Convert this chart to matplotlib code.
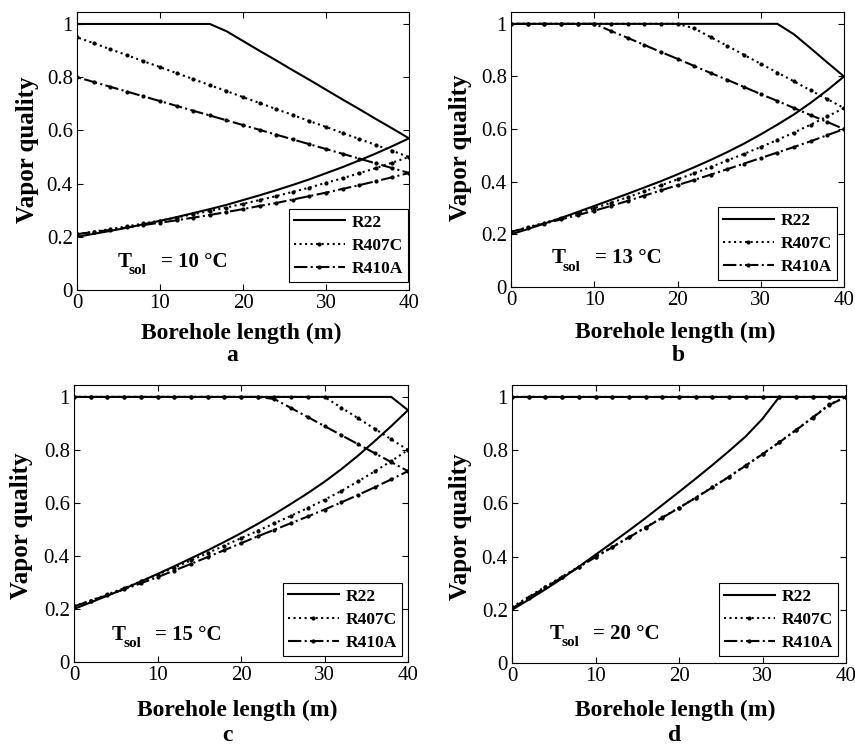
import matplotlib
matplotlib.use('Agg')
import matplotlib.pyplot as plt

plt.rcParams['font.family'] = 'Liberation Serif'

# borehole length (m), one sample every 2 m
x_len = [0, 2, 4, 6, 8, 10, 12, 14, 16, 18, 20, 22, 24, 26, 28, 30, 32, 34, 36, 38, 40]

refrigerants = ['R22', 'R407C', 'R410A']
soil_temps = [10, 13, 15, 20]
panel_letters = ['a', 'b', 'c', 'd']

# vapor quality going down the borehole (inlet at 0 m)
down_10_r22 = [0.200, 0.211, 0.222, 0.234, 0.247, 0.260, 0.274, 0.289, 0.304, 0.320, 0.338,
               0.356, 0.375, 0.395, 0.416, 0.439, 0.462, 0.487, 0.513, 0.541, 0.570]
down_10_r407c = [0.210, 0.219, 0.229, 0.239, 0.250, 0.261, 0.272, 0.285, 0.297, 0.310, 0.324,
                 0.338, 0.353, 0.369, 0.385, 0.403, 0.420, 0.439, 0.458, 0.479, 0.500]
down_10_r410a = [0.210, 0.218, 0.226, 0.235, 0.244, 0.253, 0.262, 0.272, 0.282, 0.293, 0.304,
                 0.316, 0.327, 0.340, 0.353, 0.366, 0.380, 0.394, 0.409, 0.424, 0.440]

down_13_r22 = [0.200, 0.220, 0.241, 0.262, 0.285, 0.308, 0.331, 0.354, 0.378, 0.402, 0.428,
               0.455, 0.483, 0.513, 0.545, 0.580, 0.617, 0.656, 0.700, 0.748, 0.800]
down_13_r407c = [0.210, 0.227, 0.244, 0.262, 0.281, 0.300, 0.320, 0.341, 0.363, 0.386, 0.409,
                 0.432, 0.456, 0.481, 0.506, 0.532, 0.559, 0.587, 0.617, 0.648, 0.680]
down_13_r410a = [0.210, 0.225, 0.241, 0.257, 0.273, 0.290, 0.308, 0.327, 0.347, 0.367, 0.387,
                 0.407, 0.427, 0.448, 0.469, 0.490, 0.511, 0.532, 0.554, 0.577, 0.600]

down_15_r22 = [0.200, 0.225, 0.250, 0.276, 0.304, 0.332, 0.361, 0.391, 0.421, 0.453, 0.486,
               0.521, 0.558, 0.597, 0.637, 0.680, 0.727, 0.778, 0.833, 0.890, 0.950]
down_15_r407c = [0.210, 0.232, 0.255, 0.279, 0.304, 0.330, 0.356, 0.383, 0.411, 0.439, 0.467,
                 0.495, 0.523, 0.552, 0.581, 0.612, 0.645, 0.681, 0.719, 0.758, 0.800]
down_15_r410a = [0.210, 0.231, 0.252, 0.274, 0.297, 0.320, 0.345, 0.370, 0.396, 0.422, 0.448,
                 0.474, 0.499, 0.524, 0.549, 0.575, 0.602, 0.630, 0.659, 0.689, 0.720]

down_20_r22 = [0.200, 0.238, 0.277, 0.318, 0.362, 0.407, 0.452, 0.498, 0.545, 0.594, 0.643,
               0.693, 0.744, 0.797, 0.852, 0.918, 1.000, 1.000, 1.000, 1.000, 1.000]
down_20_r407c = [0.210, 0.249, 0.287, 0.325, 0.362, 0.400, 0.436, 0.473, 0.510, 0.547, 0.584,
                 0.622, 0.661, 0.701, 0.743, 0.786, 0.830, 0.876, 0.923, 0.972, 1.000]
down_20_r410a = [0.205, 0.245, 0.284, 0.322, 0.360, 0.398, 0.435, 0.472, 0.509, 0.546, 0.583,
                 0.621, 0.660, 0.700, 0.742, 0.785, 0.829, 0.875, 0.922, 0.970, 1.000]

# vapor quality on the way back up (listed by increasing length)
up_10_r22 = [1.000, 1.000, 1.000, 1.000, 1.000, 1.000, 1.000, 1.000, 1.000, 0.973, 0.936,
             0.899, 0.863, 0.826, 0.790, 0.753, 0.716, 0.680, 0.643, 0.607, 0.570]
up_10_r407c = [0.950, 0.928, 0.905, 0.883, 0.860, 0.838, 0.815, 0.793, 0.770, 0.748, 0.725,
               0.703, 0.680, 0.658, 0.635, 0.613, 0.590, 0.568, 0.545, 0.523, 0.500]
up_10_r410a = [0.800, 0.782, 0.764, 0.746, 0.728, 0.710, 0.692, 0.674, 0.656, 0.638, 0.620,
               0.602, 0.584, 0.566, 0.548, 0.530, 0.512, 0.494, 0.476, 0.458, 0.440]

up_13_r22 = [1.000, 1.000, 1.000, 1.000, 1.000, 1.000, 1.000, 1.000, 1.000, 1.000, 1.000,
             1.000, 1.000, 1.000, 1.000, 1.000, 1.000, 0.960, 0.907, 0.853, 0.800]
up_13_r407c = [1.000, 1.000, 1.000, 1.000, 1.000, 1.000, 1.000, 1.000, 1.000, 1.000, 1.000,
               0.983, 0.949, 0.916, 0.882, 0.848, 0.815, 0.781, 0.747, 0.714, 0.680]
up_13_r410a = [1.000, 1.000, 1.000, 1.000, 1.000, 1.000, 0.973, 0.947, 0.920, 0.893, 0.867,
               0.840, 0.813, 0.787, 0.760, 0.733, 0.707, 0.680, 0.653, 0.627, 0.600]

up_15_r22 = [1.000, 1.000, 1.000, 1.000, 1.000, 1.000, 1.000, 1.000, 1.000, 1.000, 1.000,
             1.000, 1.000, 1.000, 1.000, 1.000, 1.000, 1.000, 1.000, 1.000, 0.950]
up_15_r407c = [1.000, 1.000, 1.000, 1.000, 1.000, 1.000, 1.000, 1.000, 1.000, 1.000, 1.000,
               1.000, 1.000, 1.000, 1.000, 1.000, 0.960, 0.920, 0.880, 0.840, 0.800]
up_15_r410a = [1.000, 1.000, 1.000, 1.000, 1.000, 1.000, 1.000, 1.000, 1.000, 1.000, 1.000,
               1.000, 0.992, 0.958, 0.924, 0.890, 0.856, 0.822, 0.788, 0.754, 0.720]

up_20_r22 = [1.000] * 21
up_20_r407c = [1.000] * 21
up_20_r410a = [1.000] * 21

down_legs = [
    [down_10_r22, down_10_r407c, down_10_r410a],
    [down_13_r22, down_13_r407c, down_13_r410a],
    [down_15_r22, down_15_r407c, down_15_r410a],
    [down_20_r22, down_20_r407c, down_20_r410a],
]
up_legs = [
    [up_10_r22, up_10_r407c, up_10_r410a],
    [up_13_r22, up_13_r407c, up_13_r410a],
    [up_15_r22, up_15_r407c, up_15_r410a],
    [up_20_r22, up_20_r407c, up_20_r410a],
]

styles = [
    dict(ls='-'),
    dict(ls=':', marker='.', ms=4),
    dict(ls='-.', marker='.', ms=4),
]

W, H = 855, 746
# axes boxes in pixels: left, top, right, bottom
boxes = [(77, 12, 409, 290), (511, 12, 844, 287), (74, 385, 408, 662), (512, 385, 846, 663)]
legend_anchor = [(0.997, 0.029), (0.979, 0.025), (0.982, 0.022), (0.976, 0.025)]
tsol_pos = [(4.9, 0.087), (4.9, 0.091), (4.55, 0.084), (4.55, 0.092)]
xlabel_pos = [(0.494, -0.119), (0.492, -0.127), (0.49, -0.137), (0.49, -0.133)]
ylabel_pos = [(-0.114, 0.505), (-0.118, 0.507), (-0.122, 0.493), (-0.121, 0.491)]
letter_pos = [(232, 361), (678, 361), (227, 741), (675, 741)]

fig = plt.figure(figsize=(W / 100, H / 100), dpi=100)

for i in range(4):
    l, t, r, b = boxes[i]
    ax = fig.add_axes([l / W, 1 - b / H, (r - l) / W, (b - t) / H])
    x_path = x_len + x_len[::-1]
    for j, name in enumerate(refrigerants):
        y_path = down_legs[i][j] + up_legs[i][j][::-1]
        ax.plot(x_path, y_path, color='black', lw=1.5, label=name, **styles[j])

    ax.set_xlim(0, 40)
    ax.set_ylim(0, 1.045)
    ax.set_xticks([0, 10, 20, 30, 40])
    ax.set_yticks([0, 0.2, 0.4, 0.6, 0.8, 1.0])
    ax.set_yticklabels(['0', '0.2', '0.4', '0.6', '0.8', '1'])
    ax.tick_params(direction='in', top=True, right=True, length=4, width=0.8,
                   labelsize=15, pad=3)
    for sp in ax.spines.values():
        sp.set_linewidth(0.8)

    ax.set_xlabel('Borehole length (m)', fontsize=17, fontweight='bold')
    ax.set_ylabel('Vapor quality', fontsize=18, fontweight='bold')
    ax.xaxis.set_label_coords(*xlabel_pos[i])
    ax.yaxis.set_label_coords(*ylabel_pos[i])

    leg = ax.legend(loc='lower right', bbox_to_anchor=legend_anchor[i], borderaxespad=0,
                    prop={'size': 12.5, 'weight': 'bold'}, fancybox=False, framealpha=1,
                    edgecolor='black', handlelength=2.9, handletextpad=0.4,
                    labelspacing=0.4, borderpad=0.3, numpoints=1)
    leg.get_frame().set_linewidth(0.8)

    # T_sol label: big T, dropped subscript, then the temperature
    tx, ty = tsol_pos[i]
    ax.text(tx, ty, 'T', fontsize=15, fontweight='bold', va='baseline', ha='left')
    ax.annotate('sol', xy=(tx, ty), xytext=(8, -5.5), textcoords='offset points',
                fontsize=11, fontweight='bold', va='baseline', ha='left')
    ax.annotate('= %d °C' % soil_temps[i], xy=(tx, ty), xytext=(31, 0),
                textcoords='offset points', fontsize=15, fontweight='bold',
                va='baseline', ha='left')

    lx, ly = letter_pos[i]
    fig.text(lx / W, 1 - ly / H, panel_letters[i], ha='center', va='baseline',
             fontsize=17, fontweight='bold')

fig.savefig('out.png', dpi=100, facecolor='white')
